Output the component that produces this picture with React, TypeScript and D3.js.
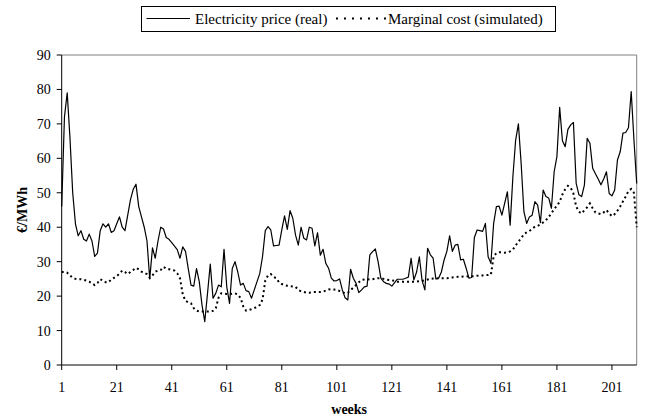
import React from "react";
import * as d3 from "d3";

const priceReal: number[] = [
  46, 72, 79, 66, 50, 41, 37.5, 39, 36.5, 36, 38, 36, 31.5, 32.5, 39, 41, 40, 41, 38.5, 39,
  41, 43, 40, 39, 43.5, 48, 51, 52.5, 46, 43, 40, 36, 25, 34, 31, 36, 40, 39.5, 37, 36.5,
  35.5, 34.5, 33.5, 31, 34.3, 33, 28, 23.2, 22.9, 28, 24.2, 17.4, 12.6, 20.8, 29.3, 19.4, 20.8, 23.2, 22.7, 33.6,
  22.7, 17.9, 28, 30, 27, 23.2, 23.7, 21.6, 21.3, 19.4, 21.8, 24.2, 26.6, 31.5, 39, 40.2, 39.2, 34.6, 34.7, 34.8,
  39.2, 43.3, 39.4, 44.8, 42.6, 37.7, 34.8, 40, 36.8, 36.3, 40, 39.7, 34.6, 38.4, 31.9, 33.6, 29.5, 28.1, 25.2, 24.4,
  24.5, 25, 21.8, 19.5, 18.9, 27.8, 25.2, 23.7, 21, 21.8, 22.7, 22.9, 32, 32.9, 33.7, 30, 25.2, 24.2, 23.7, 23.5,
  22.9, 23.9, 24.9, 24.9, 24.9, 25.2, 25.5, 31, 24.7, 27, 31.4, 24.5, 21.8, 33.9, 32, 31, 25, 25.2, 27, 30.5,
  33, 37.5, 33, 34.8, 35, 30.5, 30.7, 28.1, 25.2, 25.4, 37, 39.2, 39, 38.8, 41.1, 31.4, 29.5, 41.1, 46, 46.1,
  43.5, 46.9, 50.3, 40.6, 54.7, 65.3, 70, 58.5, 44.5, 41.1, 43, 43.5, 47.4, 46.4, 41.3, 50.8, 48.9, 48.5, 45.5, 56.1,
  60.5, 74.8, 65.1, 63.4, 68.4, 69.7, 70.4, 52.7, 49.4, 48.9, 52.3, 65.8, 64.4, 57.1, 55.5, 54, 52.3, 54, 56.1, 49.8,
  49.1, 50.8, 59.5, 61.9, 67.3, 67.5, 68.9, 79.4, 65.3, 52.7,
];

const marginalCost: number[] = [
  27, 27, 26.8, 26, 25.3, 25, 24.9, 24.9, 24.7, 24.5, 24.2, 23.7, 23.2, 23.8, 24.9, 24.5, 24, 24, 24.8, 25.3,
  25.8, 26.5, 27.4, 27, 26.4, 27, 27.6, 28.2, 27.8, 27.1, 26.7, 26.4, 25.3, 26, 27.1, 27.4, 27.6, 28.5, 28, 27.8,
  27.6, 27.4, 26.6, 25.2, 20.5, 18.6, 18.2, 17.9, 16.5, 15.8, 15.5, 15.5, 15.5, 15.5, 15.6, 15.7, 16.5, 19.5, 20.8, 20.7,
  20.6, 20.6, 20.7, 20.8, 20.5, 19.5, 17, 15.8, 16, 16.2, 16.5, 16.9, 17.4, 19, 24.5, 26, 26.4, 25.6, 25.2, 24,
  23.5, 23.2, 23, 22.9, 22.8, 22.7, 21.8, 21.4, 21.2, 21, 21, 21.1, 21.2, 21.2, 21.2, 21.3, 21.6, 21.9, 22, 21.9,
  21.8, 21.5, 21.2, 20.8, 21, 21.7, 22.5, 23.2, 24, 24.7, 24.8, 24.9, 24.8, 24.9, 25.1, 25.2, 25.2, 25, 24.8, 24.7,
  24.6, 24.4, 24.2, 24.2, 24.2, 24.2, 24.2, 24.2, 24.2, 24.2, 24.3, 24.4, 24.6, 24.8, 25, 25.1, 25.1, 25.2, 25.2, 25.2,
  25.2, 25.3, 25.4, 25.5, 25.6, 25.6, 25.7, 25.7, 25.8, 25.8, 25.8, 25.9, 26, 26, 26.1, 26.1, 26.2, 31.5, 32.5, 32.7,
  32.7, 32.6, 32.7, 33, 33.5, 34.7, 35.8, 36.8, 38, 38.5, 38.9, 39.5, 40.2, 40.4, 40.8, 41.4, 42, 43, 44, 45.3,
  46.2, 47.4, 49.5, 51, 52, 51.5, 49.8, 46, 44.5, 44, 45, 45.8, 46.9, 45.5, 44.3, 44, 43.8, 44.3, 45, 44,
  43.2, 43.8, 44.8, 46, 47.5, 48.9, 50.5, 51.1, 50, 40,
];

const xTickLabels: number[] = [1, 21, 41, 61, 81, 101, 121, 141, 161, 181, 201];
const yTickValues: number[] = [0, 10, 20, 30, 40, 50, 60, 70, 80, 90];
const seriesNames: string[] = ["Electricity price (real)", "Marginal cost (simulated)"];

const W = 646;
const H = 420;
const L = 61.7;
const R = 636.7;
const T = 55;
const B = 365;
const FONT = "Liberation Serif";

export default function App() {
  const weeks = priceReal.map((_, i) => i + 1);
  const x = d3.scaleLinear().domain([1, weeks.length]).range([L, R]);
  const y = d3.scaleLinear().domain([0, 90]).range([B, T]);
  const line = d3
    .line<number>()
    .x((_, i) => x(i + 1))
    .y((d) => y(d));

  return (
    <svg
      width={W}
      height={H}
      style={{ position: "fixed", left: 0, top: 0, background: "#fff" }}
      fontFamily={FONT}
    >
      <rect x={0} y={0} width={W} height={H} fill="#fff" />
      <line x1={L} y1={T} x2={R} y2={T} stroke="#808080" strokeWidth={1} />
      <line x1={R} y1={T} x2={R} y2={B} stroke="#808080" strokeWidth={1} />
      <path d={line(marginalCost) || ""} fill="none" stroke="#000" strokeWidth={2} strokeDasharray="2 3" />
      <path d={line(priceReal) || ""} fill="none" stroke="#000" strokeWidth={1.2} strokeLinejoin="round" />
      <line x1={L} y1={T} x2={L} y2={B} stroke="#000" strokeWidth={1} />
      <line x1={L} y1={B} x2={R} y2={B} stroke="#000" strokeWidth={1} />
      {yTickValues.map((v) => (
        <g key={"y" + v}>
          <line x1={L - 5} x2={L} y1={y(v)} y2={y(v)} stroke="#000" />
          <text x={L - 11} y={y(v) + 5} textAnchor="end" fontSize={14} fontFamily={FONT}>
            {v}
          </text>
        </g>
      ))}
      {xTickLabels.map((w) => (
        <g key={"x" + w}>
          <line x1={x(w)} x2={x(w)} y1={B} y2={B + 5} stroke="#000" />
          <text x={x(w)} y={B + 27} textAnchor="middle" fontSize={14} fontFamily={FONT}>
            {w}
          </text>
        </g>
      ))}
      <text x={(L + R) / 2} y={414} textAnchor="middle" fontSize={14} fontWeight="bold" fontFamily={FONT}>
        weeks
      </text>
      <text
        transform={`translate(27,${(T + B) / 2}) rotate(-90)`}
        textAnchor="middle"
        fontSize={14}
        fontWeight="bold"
        fontFamily={FONT}
      >
        €/MWh
      </text>
      <rect x={141.5} y={6.5} width={414} height={25} fill="#fff" stroke="#000" strokeWidth={1} />
      <line x1={146.5} x2={190} y1={18.5} y2={18.5} stroke="#000" strokeWidth={1.2} />
      <text x={195} y={24} fontSize={15} fontFamily={FONT}>
        {seriesNames[0]}
      </text>
      <line x1={336} x2={386} y1={18.5} y2={18.5} stroke="#000" strokeWidth={2} strokeDasharray="2 6" />
      <text x={388} y={24} fontSize={15} fontFamily={FONT}>
        {seriesNames[1]}
      </text>
    </svg>
  );
}
